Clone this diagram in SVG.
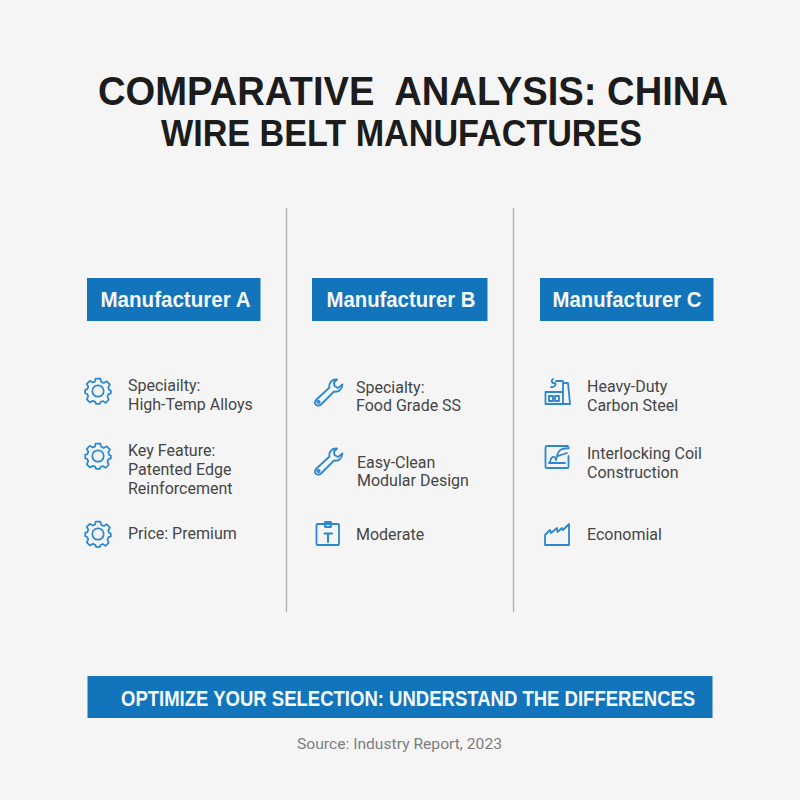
<svg xmlns="http://www.w3.org/2000/svg" width="800" height="800" viewBox="0 0 800 800">
<style>
text{font-family:"Liberation Sans",Arial,sans-serif}
.t{font-weight:700;fill:#1c1c1c}
.h{font-size:21.500px;font-weight:700;fill:#f4f8fb}
.b{font-size:16px;fill:#454545;font-family:Roboto,"Liberation Sans",sans-serif}
.i{fill:none;stroke:#2b87cf;stroke-width:1.800;stroke-linejoin:round;stroke-linecap:round}
.box{fill:#1275bb}
.d{stroke:#b4b6b8;stroke-width:1.500}
</style>
<defs>
<g id="gear">
<g transform="scale(0.95)">
<path class="i" d="M-2.500,-13 L2.500,-13 L3.400,-9.600 L6,-8.500 L9.200,-10.200 L12.600,-6.800 L10.800,-3.700 L11.600,-1.200 L13.500,-0.500 L13.500,2.500 L11,3.300 L9.900,6 L11.300,9.200 L8,12.500 L5,10.600 L2.500,11.600 L2,13.500 L-2,13.500 L-2.800,11.400 L-5.500,10.400 L-8.600,12 L-11.800,8.800 L-10.300,5.700 L-11.300,3.200 L-13.500,2.400 L-13.500,-1.200 L-11.200,-2 L-10.200,-4.600 L-11.800,-7.400 L-8.600,-10.700 L-5.600,-9 L-3.200,-9.900 Z"/>
<circle class="i" r="6"/>
</g>
</g>
<g id="wrench">
<path class="i" d="M9,-12.500 C4,-13 0.500,-9 1.500,-4.500 L-11.500,7.500 C-14.500,10.500 -13,13 -10.500,13.500 C-9,14 -7.500,13 -6.500,12 L6,-0.500 C10,0.500 14,-2 14.500,-7.500 L10,-4 L6.500,-6 L6,-9.500 Z"/>
<circle class="i" cx="-9.500" cy="10" r="1.200"/>
</g>
</defs>
<rect width="800" height="800" fill="#f5f5f6"/>
<g id="title">
<text class="t" x="98" y="105" font-size="40" textLength="630" lengthAdjust="spacingAndGlyphs" xml:space="preserve">COMPARATIVE  ANALYSIS: CHINA</text>
<text class="t" x="161" y="146" font-size="36" textLength="481" lengthAdjust="spacingAndGlyphs">WIRE BELT MANUFACTURES</text>
</g>
<g id="connectors">
<line class="d" x1="286.500" y1="208" x2="286.500" y2="612"/>
<line class="d" x1="513.500" y1="208" x2="513.500" y2="612"/>
</g>
<g id="manufacturer-a">
<rect class="box" x="87" y="278" width="173.500" height="43"/>
<text class="h" x="100.500" y="307" textLength="150" lengthAdjust="spacingAndGlyphs">Manufacturer A</text>
<use href="#gear" x="98" y="391"/>
<text class="b" x="128" y="391">Speciailty:</text>
<text class="b" x="128" y="410">High-Temp Alloys</text>
<use href="#gear" x="98" y="456"/>
<text class="b" x="128" y="456">Key Feature:</text>
<text class="b" x="128" y="475">Patented Edge</text>
<text class="b" x="128" y="494">Reinforcement</text>
<use href="#gear" x="98" y="534"/>
<text class="b" x="128" y="539">Price: Premium</text>
</g>
<g id="manufacturer-b">
<rect class="box" x="312" y="278" width="175.500" height="43"/>
<text class="h" x="326.500" y="307" textLength="149" lengthAdjust="spacingAndGlyphs">Manufacturer B</text>
<use href="#wrench" x="328" y="392"/>
<text class="b" x="356" y="393">Specialty:</text>
<text class="b" x="356" y="411">Food Grade SS</text>
<use href="#wrench" x="328" y="461"/>
<text class="b" x="357" y="468">Easy-Clean</text>
<text class="b" x="357" y="486">Modular Design</text>
<g id="clipboard-icon" class="i">
<rect x="316.500" y="524" width="22.500" height="21" rx="1"/>
<rect x="325" y="522" width="6" height="5"/>
<path d="M324.500,533.500 H332 M328,533.500 V542" stroke-width="2"/>
</g>
<text class="b" x="356" y="540">Moderate</text>
</g>
<g id="manufacturer-c">
<rect class="box" x="540" y="278" width="173.500" height="43"/>
<text class="h" x="552.500" y="307" textLength="149" lengthAdjust="spacingAndGlyphs">Manufacturer C</text>
<g id="plant-icon" class="i">
<path d="M545.500,404 V392 H563 V404 Z M563,404 V383 H568 L570,404 Z"/>
<path d="M549,396 H553 V401 H549 Z M555,396 H559 V401 H555 Z"/>
<path d="M553,379 C550,381 553,384 555,383 C557,385 553,388 551,387 M556,381 H563"/>
</g>
<text class="b" x="587" y="392">Heavy-Duty</text>
<text class="b" x="587" y="411">Carbon Steel</text>
<g id="coil-icon" class="i">
<path d="M568,446 H547 Q545.500,446 545.500,447.500 V467 Q545.500,468 547,468 H567 Q568.500,468 568.500,467 V456"/>
<path d="M549,463 H565 M550,462 C551,456 555,455 556,460 C557,454 559,450 562,449 L569,448 M558,456 L567,453"/>
</g>
<text class="b" x="587" y="459">Interlocking Coil</text>
<text class="b" x="587" y="478">Construction</text>
<path class="i" id="factory-icon" d="M545,545 V535 L550,530 L551,533 L557,528 L557.500,532 L562,528 L563,530 L569,524 V545 Z"/>
<text class="b" x="587" y="540">Economial</text>
</g>
<g id="banner">
<rect class="box" x="87.500" y="676" width="625" height="42"/>
<text transform="translate(121 705.500) scale(0.9 1)" font-size="22" font-weight="700" fill="#f4f8fb" textLength="638" lengthAdjust="spacingAndGlyphs">OPTIMIZE YOUR SELECTION: UNDERSTAND THE DIFFERENCES</text>
</g>
<text id="source" x="297" y="749" font-size="15.500" fill="#7d7d7d" textLength="205" lengthAdjust="spacingAndGlyphs" style="font-family:Roboto,'Liberation Sans',sans-serif">Source: Industry Report, 2023</text>
</svg>
